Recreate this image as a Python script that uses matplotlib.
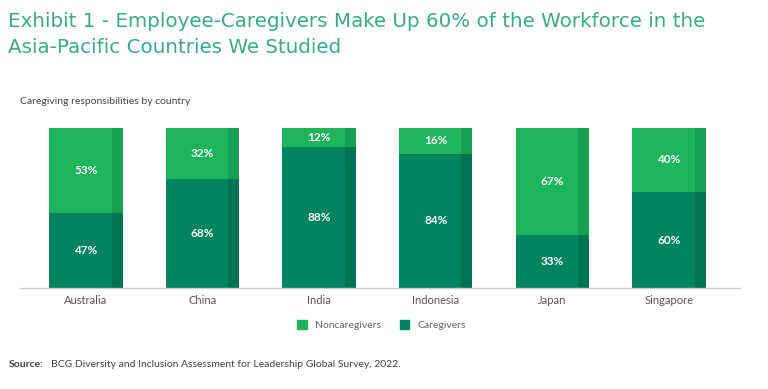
import numpy as np
import matplotlib.pyplot as plt
from matplotlib.patches import Patch

# data
countries = ['Australia', 'China', 'India', 'Indonesia', 'Japan', 'Singapore']
caregivers = [47, 68, 88, 84, 33, 60]
noncaregivers = [53, 32, 12, 16, 67, 40]

light = '#1db45c'
light_dark = '#17a052'
dark = '#00845f'
dark_dark = '#007452'

plt.rcParams['font.family'] = ['Lato', 'DejaVu Sans']

fig = plt.figure(figsize=(7.68, 3.89), dpi=100)
ax = fig.add_axes([0.026, 0.2596, 0.9375, 0.4114])

x = np.arange(len(countries))
w = 0.63
s = 0.095

ax.bar(x, caregivers, width=w, color=dark, linewidth=0)
ax.bar(x, noncaregivers, width=w, bottom=caregivers, color=light, linewidth=0)
# darker strip on the right side of each bar
ax.bar(x + w / 2 - s / 2, caregivers, width=s, color=dark_dark, linewidth=0)
ax.bar(x + w / 2 - s / 2, noncaregivers, width=s, bottom=caregivers, color=light_dark, linewidth=0)

for i in range(len(countries)):
    ax.text(x[i], caregivers[i] / 2, f'{caregivers[i]}%', ha='center', va='center',
            color='white', fontsize=8.5, fontweight='bold')
    ax.text(x[i], caregivers[i] + noncaregivers[i] / 2, f'{noncaregivers[i]}%', ha='center',
            va='center', color='white', fontsize=8.5, fontweight='bold')

ax.set_xlim(-0.566, 5.61)
ax.set_ylim(0, 100)
ax.set_xticks(x)
ax.set_xticklabels(countries, fontsize=8, color='#555555')
ax.tick_params(axis='x', length=0, pad=5)
ax.set_yticks([])
for sp in ['top', 'right', 'left']:
    ax.spines[sp].set_visible(False)
ax.spines['bottom'].set_color('#cccccc')
ax.spines['bottom'].set_linewidth(1)

handles = [Patch(color=light, label='Noncaregivers'), Patch(color=dark, label='Caregivers')]
fig.legend(handles=handles, loc='center', bbox_to_anchor=(0.497, 0.164), ncol=2, frameon=False,
           fontsize=7.5, labelcolor='#666666', handlelength=0.9, handleheight=0.9,
           columnspacing=1.8, handletextpad=0.8)

fig.text(0.011, 0.968, 'Exhibit 1 - Employee-Caregivers Make Up 60% of the Workforce in the\nAsia-Pacific Countries We Studied',
         ha='left', va='top', fontsize=14.3, color='#3ca989', linespacing=1.45,
         family='DejaVu Sans')
fig.text(0.026, 0.738, 'Caregiving responsibilities by country', ha='left', va='center',
         fontsize=7.5, color='#444444')
fig.text(0.012, 0.064, 'Source:', ha='left', va='center', fontsize=7.5, color='#444444',
         fontweight='bold')
fig.text(0.066, 0.064, 'BCG Diversity and Inclusion Assessment for Leadership Global Survey, 2022.',
         ha='left', va='center', fontsize=7.5, color='#444444')

fig.savefig('out.png', dpi=100, facecolor='white')
